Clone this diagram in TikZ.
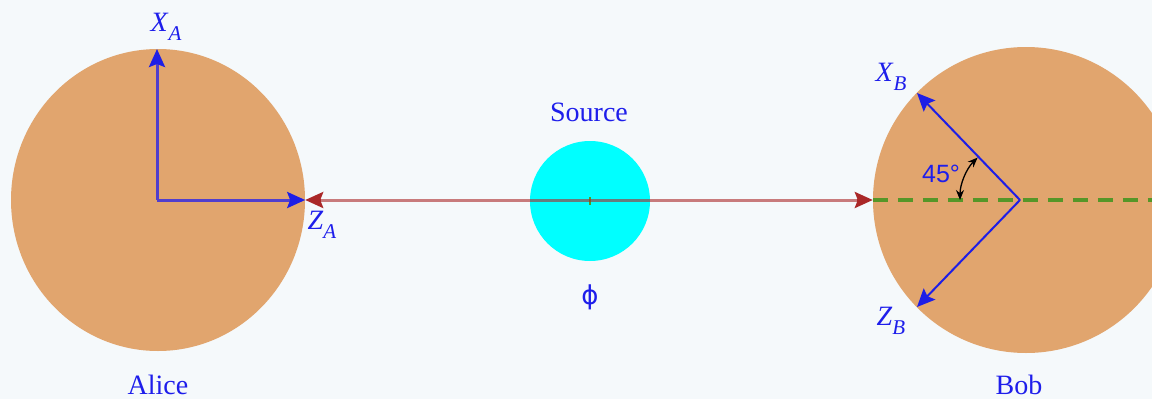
\documentclass[tikz,border=0pt]{standalone}
\usepackage{fontspec}
\setmainfont{Liberation Serif}
\newfontfamily\symfont{DejaVu Sans}
\newfontfamily\degfont{Liberation Sans}
\usetikzlibrary{shapes.geometric,arrows.meta,calc}
\definecolor{bg}{RGB}{245,249,251}
\definecolor{disc}{RGB}{225,165,110}
\definecolor{srccol}{RGB}{0,255,255}
\definecolor{axblue}{RGB}{30,30,230}
\definecolor{axpurple}{RGB}{80,62,205}
\definecolor{txtblue}{RGB}{30,30,235}
\definecolor{beamred}{RGB}{170,40,40}
\definecolor{refgreen}{RGB}{85,150,40}
\newcommand{\axlabel}[2]{\textit{#1}\raisebox{-0.3em}{\fontsize{21}{21}\selectfont\textit{#2}}}
\tikzset{
  lbl/.style={text=txtblue, font=\fontsize{28}{30}\selectfont, inner sep=0pt},
  alicax/.style={draw=axpurple, line width=3pt, -{Stealth[length=18pt,width=16pt,inset=3pt,color=axblue]}},
  bobax/.style={draw=axblue, line width=2pt, -{Stealth[length=18pt,width=16pt,inset=3pt,color=axblue]}},
  beam/.style={draw=beamred, line width=3pt, opacity=0.6},
  refline/.style={draw=refgreen, line width=3.5pt, dash pattern=on 15pt off 10pt},
  anglearc/.style={draw=black, line width=1.3pt, {Stealth[length=10pt,width=8pt]}-{Stealth[length=10pt,width=8pt]}}
}
\begin{document}
\begin{tikzpicture}[x=1pt,y=-1pt]
\fill[bg] (0,0) rectangle (1152,399);
\useasboundingbox (0,0) rectangle (1152,399);
\clip (0,0) rectangle (1152,399);
% discs
\node[ellipse, fill=disc, minimum width=294pt, minimum height=302pt, inner sep=0pt] (alice) at (158,200) {};
\node[circle, fill=disc, minimum size=306pt, inner sep=0pt] (bob) at (1026,200) {};
\node[circle, fill=srccol, minimum size=120pt, inner sep=0pt] (src) at (590,201) {};
% coordinates
\coordinate (oA) at (157,200);
\coordinate (xA) at (157,49);
\coordinate (oB) at (1020,200);
\coordinate (xB) at (917,93);
\coordinate (zB) at (917,307);
\coordinate (edgeR) at (1152,200);
% reference line
\draw[refline] (bob.west) -- (edgeR);
% source tick
\draw[refgreen, line width=1.5pt] ($(src.center)+(0,-4)$) -- ($(src.center)+(0,4)$);
% beam
\draw[beam, shorten <=14pt, shorten >=14pt] (alice.east) -- (bob.west);
\draw[draw=beamred, line width=3pt, {Stealth[length=18pt,width=16pt,inset=3pt]}-] (alice.east) -- ($(alice.east)+(16,0)$);
\draw[draw=beamred, line width=3pt, -{Stealth[length=18pt,width=16pt,inset=3pt]}] ($(bob.west)+(-16,0)$) -- (bob.west);
% Alice axes
\draw[alicax] (oA) -- (xA);
\draw[alicax] (oA) -- (alice.east);
% Bob axes
\draw[bobax] (oB) -- (xB);
\draw[bobax] (oB) -- (zB);
% angle arc
\draw[anglearc] ($(oB)+(-60,0)$) arc[start angle=180, end angle=225, radius=60];
% labels
\node[lbl] (lxA) at (166,27) {\axlabel{X}{A}};
\node[lbl] (lzA) at (322,225) {\axlabel{Z}{A}};
\node[lbl] (lxB) at (891,77) {\axlabel{X}{B}};
\node[lbl] (lzB) at (891,321) {\axlabel{Z}{B}};
\node[lbl] (lsrc) at (589,112) {Source};
\node[lbl, font=\symfont\fontsize{26}{28}\selectfont] (lphi) at (590,297) {ϕ};
\node[lbl, font=\degfont\fontsize{25}{28}\selectfont] (lang) at (941,174) {45°};
\node[lbl] (lalice) at (158,385) {Alice};
\node[lbl] (lbob) at (1019,385) {Bob};
\end{tikzpicture}
\end{document}
